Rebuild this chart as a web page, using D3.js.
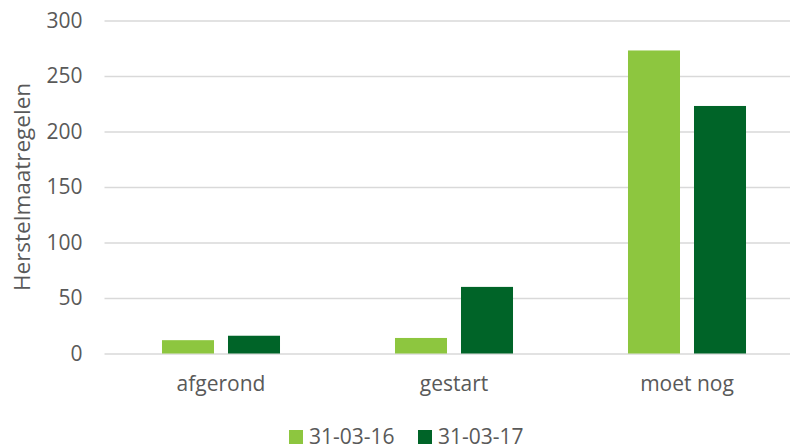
<!DOCTYPE html>
<html>
<head>
<meta charset="utf-8">
<script src="https://cdn.jsdelivr.net/npm/d3@7"></script>
<style>
  body { margin: 0; background: #fff; }
  svg text { font-family: "Open Sans", "Noto Sans", sans-serif; fill: #595959; }
</style>
</head>
<body>
<svg id="chart"></svg>
<script>
// chart data
var categories = ["afgerond", "gestart", "moet nog"]
var seriesNames = ["31-03-16", "31-03-17"]
var values1603 = [12, 14, 273]
var values1703 = [16, 60, 223]
var yTicks = [0, 50, 100, 150, 200, 250, 300]
var colors = ["#8DC63F", "#006428"]

var screen = {width: 790, height: 447}
var margins = {left: 104.5, top: 20.5, right: -13.5, bottom: 93.5}

var graph = {
    width: screen.width - margins.left - margins.right,
    height: screen.height - margins.top - margins.bottom
}

var svg = d3.select("#chart")
    .attr("width", screen.width)
    .attr("height", screen.height)

var target = svg.append("g")
    .attr("transform", "translate(" + margins.left + "," + margins.top + ")")

var xScale = d3.scaleBand()
    .domain(categories)
    .range([0, graph.width])

var xInner = d3.scaleBand()
    .domain(seriesNames)
    .range([0, xScale.bandwidth()])
    .paddingInner(0.212)
    .paddingOuter(0.871)

var yScale = d3.scaleLinear()
    .domain([0, 300])
    .range([graph.height, 0])

// y axis with gridlines
var yAxis = d3.axisLeft(yScale)
    .tickValues(yTicks)
    .tickSize(-graph.width)
    .tickPadding(22)

var yg = target.append("g").call(yAxis)
yg.select(".domain").remove()
yg.selectAll("line").attr("stroke", "#D9D9D9").attr("stroke-width", 1.3)
yg.selectAll("text")
    .style("font-size", "21px")
    .attr("fill", "#595959")

// x axis labels
var xAxis = d3.axisBottom(xScale).tickSize(0).tickPadding(23)
var xg = target.append("g")
    .attr("transform", "translate(0," + graph.height + ")")
    .call(xAxis)
xg.select(".domain").remove()
xg.selectAll("text")
    .style("font-size", "21px")
    .attr("fill", "#595959")

// bars
var rows = categories.map(function (c, i) {
    return {category: c, values: [values1603[i], values1703[i]]}
})

var groups = target.selectAll(".cat")
    .data(rows)
    .enter()
    .append("g")
    .attr("transform", function (d) { return "translate(" + xScale(d.category) + ",0)" })

groups.selectAll("rect")
    .data(function (d) {
        return d.values.map(function (v, j) { return {name: seriesNames[j], value: v, idx: j} })
    })
    .enter()
    .append("rect")
    .attr("x", function (d) { return xInner(d.name) })
    .attr("y", function (d) { return yScale(d.value) })
    .attr("width", xInner.bandwidth())
    .attr("height", function (d) { return graph.height - yScale(d.value) })
    .attr("fill", function (d) { return colors[d.idx] })

// y axis title
svg.append("text")
    .text("Herstelmaatregelen")
    .attr("text-anchor", "middle")
    .attr("transform", "translate(30,187) rotate(-90)")
    .style("font-size", "22.5px")

// legend
var legendX = [289, 418]
var legend = svg.selectAll(".legend")
    .data(seriesNames)
    .enter()
    .append("g")
    .attr("transform", function (d, i) { return "translate(" + legendX[i] + ",430)" })

legend.append("rect")
    .attr("width", 14)
    .attr("height", 14)
    .attr("fill", function (d, i) { return colors[i] })

legend.append("text")
    .text(function (d) { return d })
    .attr("x", 20)
    .attr("y", 14)
    .style("font-size", "21px")
</script>
</body>
</html>
